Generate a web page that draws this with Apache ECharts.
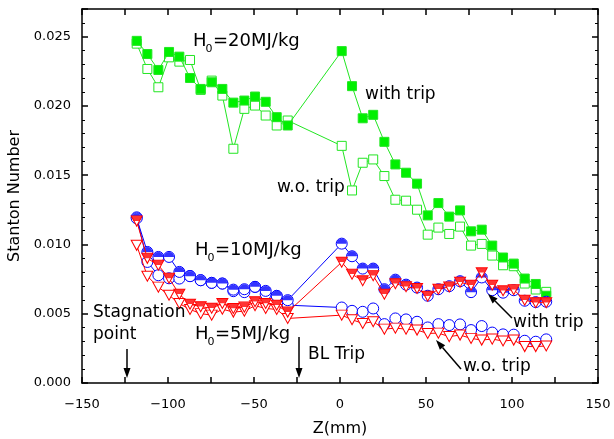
<!DOCTYPE html>
<html>
<head>
<meta charset="utf-8">
<script src="https://cdn.jsdelivr.net/npm/echarts@6/dist/echarts.min.js"></script>
<style>html,body{margin:0;padding:0;background:#fff}#main{width:614px;height:439px}</style>
</head>
<body>
<div id="main"></div>
<script>
// Z positions (mm): upstream of the trip and downstream of it
const zUp = [-118.2,-112,-105.6,-99.4,-93.4,-87.2,-81,-74.6,-68.4,-62,-55.6,-49.4,-43.2,-36.8,-30.4];
const zDown = [1,7,13.2,19.3,25.8,32.2,38.4,44.8,51,57.2,63.5,69.8,76.2,82.4,88.5,94.8,101,107.4,113.8,119.9];
const zAll = zUp.concat(zDown);

// H0 = 20MJ/kg
const green20Trip = [0.0247,0.02375,0.0226,0.0239,0.02356,0.02202,0.02123,0.02171,0.02123,0.02024,0.02039,0.02068,0.0203,0.01919,0.01859,
  0.02396,0.02143,0.01911,0.01936,0.01741,0.01578,0.01518,0.01439,0.0121,0.01299,0.01201,0.01246,0.01095,0.01107,0.00992,0.00906,0.00862,0.00754,0.00715,0.0063];
const green20NoTrip = [0.0245,0.02267,0.02135,0.02351,0.0232,0.02332,0.02116,0.02183,0.02075,0.01691,0.01979,0.02003,0.01931,0.01859,0.01895,
  0.01712,0.0139,0.0159,0.01614,0.01494,0.01323,0.01316,0.01251,0.01071,0.01122,0.01076,0.01129,0.00992,0.01004,0.0092,0.0085,0.00843,0.00718,0.00675,0.00658];
// H0 = 10MJ/kg
const blue10Trip = [0.01189,0.00946,0.0091,0.0091,0.00802,0.00771,0.00742,0.00723,0.00718,0.00674,0.00677,0.00694,0.00665,0.00629,0.00598,
  0.01006,0.00915,0.00826,0.00826,0.00677,0.00746,0.0071,0.00689,0.0063,0.00677,0.00699,0.00735,0.00656,0.00762,0.0067,0.00652,0.0067,0.00594,0.00584,0.00587];
const blue10NoTrip = [0.01196,0.00874,0.00778,0.00756,0.00754,0.00773,0.00742,0.00723,0.00718,0.00663,0.00656,0.00694,0.00641,0.00629,0.00562,
  0.00545,0.00521,0.00514,0.00538,0.00425,0.00466,0.00459,0.00442,0.00401,0.00425,0.00418,0.00423,0.00382,0.00411,0.00364,0.00351,0.00349,0.00305,0.00298,0.00315];
// H0 = 5MJ/kg
const red5Trip = [0.01169,0.009,0.0085,0.00756,0.00641,0.00569,0.00551,0.0054,0.00574,0.00538,0.00548,0.00587,0.00574,0.00562,0.00512,
  0.00872,0.00785,0.00738,0.00775,0.00641,0.00717,0.00695,0.00682,0.00627,0.00677,0.00694,0.00728,0.00706,0.00796,0.00706,0.00666,0.00674,0.00598,0.0058,0.0058];
const red5NoTrip = [0.00994,0.00771,0.00692,0.00634,0.00574,0.00531,0.00501,0.0049,0.00533,0.00512,0.00519,0.00558,0.00538,0.00531,0.00466,
  0.0049,0.00457,0.0043,0.00442,0.00389,0.00396,0.00389,0.00382,0.00358,0.0036,0.00335,0.00346,0.00322,0.0031,0.00317,0.00303,0.0031,0.00263,0.00263,0.00267];

const FONT = 'DejaVu Sans';
const GREEN = '#22e622', GREEN_FILL = '#00f000', BLUE = '#0000ff', RED = '#ff0000';

function pts(vals) { return zAll.map((z, i) => [z, vals[i]]); }

const halfDisc = 'path://M0,10A10,10,0,0,1,20,10Z';
const downTri = 'path://M0,0L10,0L5,9Z';
const topTrap = 'path://M0,0L10,0L7.5,4.5L2.5,4.5Z';

function lineSeries(vals, color, symbol, size, fill, z) {
  return {
    type: 'line', data: pts(vals), symbol: symbol, symbolSize: size, z: z,
    showAllSymbol: true, animation: false,
    lineStyle: { color: color, width: 1 },
    itemStyle: { color: fill, borderColor: color, borderWidth: 1 }
  };
}
function overlay(vals, color, symbol, size, offset, z) {
  return {
    type: 'scatter', data: pts(vals), symbol: symbol, symbolSize: size, symbolOffset: offset,
    z: z, silent: true, animation: false,
    itemStyle: { color: color, borderWidth: 0 }
  };
}

function txt(x, y, s, size) {
  return { type: 'text', x: x, y: y, z: 100,
    style: { text: s, fontSize: size || 17, fontFamily: FONT, fill: '#000', align: 'left', verticalAlign: 'middle' } };
}
function hLabel(x, y, rest) {
  return [txt(x, y, 'H', 18), txt(x + 12.5, y + 8, '0', 11), txt(x + 20, y, rest, 18)];
}
function arrow(x1, y1, x2, y2) {
  const a = Math.atan2(y2 - y1, x2 - x1), L = 10, W = 3.5;
  const bx = x2 - L * Math.cos(a), by = y2 - L * Math.sin(a);
  const nx = -Math.sin(a) * W, ny = Math.cos(a) * W;
  return [
    { type: 'line', z: 100, shape: { x1: x1, y1: y1, x2: bx, y2: by }, style: { stroke: '#000', lineWidth: 1.5 } },
    { type: 'polygon', z: 100, shape: { points: [[x2, y2], [bx + nx, by + ny], [bx - nx, by - ny]] }, style: { fill: '#000' } }
  ];
}

const labelStyle = { color: '#000', fontFamily: FONT, fontSize: 13 };
const lineBlack = { color: '#000', width: 1.5 };

const chart = echarts.init(document.getElementById('main'), null, { renderer: 'canvas' });
chart.setOption({
  backgroundColor: '#fff',
  animation: false,
  grid: { left: 82, right: 16, top: 9, bottom: 56, containLabel: false, outerBoundsMode: 'none' },
  xAxis: [{
    type: 'value', min: -150, max: 150, interval: 50, position: 'bottom',
    name: 'Z(mm)', nameLocation: 'middle', nameGap: 38,
    nameTextStyle: { color: '#000', fontFamily: FONT, fontSize: 16 },
    axisLine: { onZero: false, lineStyle: lineBlack },
    axisTick: { inside: true, length: 6, lineStyle: lineBlack },
    minorTick: { show: true, splitNumber: 2, length: 6, lineStyle: { color: '#000', width: 1.5 } },
    axisLabel: Object.assign({ margin: 15, formatter: v => String(v).replace('-', '\u2212') }, labelStyle),
    splitLine: { show: false }
  }, {
    type: 'value', min: -150, max: 150, interval: 50, position: 'top',
    axisLine: { onZero: false, lineStyle: lineBlack },
    axisTick: { inside: true, length: 6, lineStyle: lineBlack },
    minorTick: { show: true, splitNumber: 2, length: 6, lineStyle: { color: '#000', width: 1.5 } },
    axisLabel: { show: false }, splitLine: { show: false }
  }],
  yAxis: [{
    type: 'value', min: 0, max: 0.027, interval: 0.005, position: 'left',
    name: 'Stanton Number', nameLocation: 'middle', nameGap: 58,
    nameTextStyle: { color: '#000', fontFamily: FONT, fontSize: 16 },
    axisLine: { onZero: false, lineStyle: lineBlack },
    axisTick: { inside: true, length: 6, lineStyle: lineBlack },
    minorTick: { show: true, splitNumber: 5, length: 3, lineStyle: { color: '#000', width: 1 } },
    axisLabel: Object.assign({ margin: 11, showMaxLabel: false, formatter: v => v.toFixed(3) }, labelStyle),
    splitLine: { show: false }
  }, {
    type: 'value', min: 0, max: 0.027, interval: 0.005, position: 'right',
    axisLine: { onZero: false, lineStyle: lineBlack },
    axisTick: { inside: true, length: 6, lineStyle: lineBlack },
    minorTick: { show: true, splitNumber: 5, length: 3, lineStyle: { color: '#000', width: 1 } },
    axisLabel: { show: false }, splitLine: { show: false }
  }],
  series: [
    lineSeries(green20NoTrip, GREEN, 'rect', 9, '#fff', 2),
    lineSeries(green20Trip, GREEN, 'rect', 9, GREEN_FILL, 3),
    lineSeries(blue10NoTrip, BLUE, 'circle', 11, '#fff', 4),
    lineSeries(red5NoTrip, RED, downTri, [11, 10], '#fff', 5),
    lineSeries(blue10Trip, BLUE, 'circle', 11, '#fff', 6),
    overlay(blue10Trip, BLUE, halfDisc, [10, 5], [0, -2.5], 7),
    lineSeries(red5Trip, RED, downTri, [11, 10], '#fff', 8),
    overlay(red5Trip, RED, topTrap, [10.5, 4.7], [0, -2.5], 9)
  ],
  graphic: [].concat(
    hLabel(193, 41, '=20MJ/kg'),
    hLabel(195, 250, '=10MJ/kg'),
    hLabel(195, 334, '=5MJ/kg'),
    [txt(365, 95, 'with trip'), txt(277, 188, 'w.o. trip'),
     txt(93, 313, 'Stagnation'), txt(93, 335, 'point'),
     txt(308, 355, 'BL Trip'),
     txt(513, 323, 'with trip'), txt(463, 367, 'w.o. trip')],
    arrow(127, 349, 127, 378),
    arrow(299, 337, 299, 378),
    arrow(512, 318, 488, 294),
    arrow(461, 369, 436, 340)
  )
});
</script>
</body>
</html>
